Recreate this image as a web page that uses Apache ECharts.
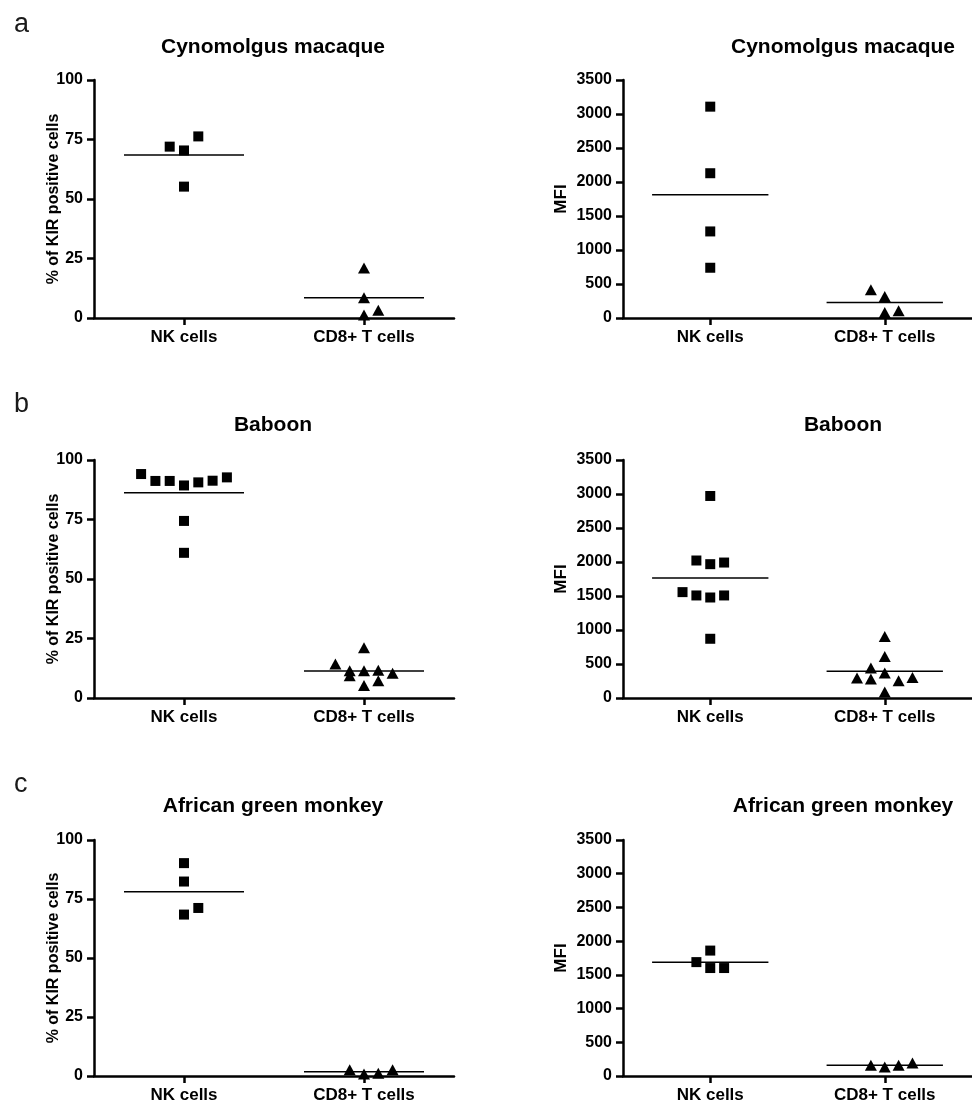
<!DOCTYPE html>
<html>
<head>
<meta charset="utf-8">
<script src="https://cdn.jsdelivr.net/npm/echarts@6/dist/echarts.min.js"></script>
<style>
html,body{margin:0;padding:0;background:#fff;}
#chart{width:972px;height:1104px;}
</style>
</head>
<body>
<div id="chart"></div>
<script>
// ---------- data ----------
var categories = ['NK cells', 'CD8+ T cells'];
var panelLetters = ['a', 'b', 'c'];
var speciesTitles = ['Cynomolgus macaque', 'Baboon', 'African green monkey'];
var pctAxisName = '% of KIR positive cells';
var mfiAxisName = 'MFI';

// % of KIR positive cells
var cynoPctNK = [72.0, 70.4, 76.3, 55.2];
var cynoPctNKSlot = [-1, 0, 1, 0];
var cynoPctCD8 = [21.0, 8.5, 3.3, 1.3];
var cynoPctCD8Slot = [0, 0, 1, 0];

var babPctNK = [94.1, 91.2, 91.2, 89.3, 90.6, 91.3, 92.7, 74.4, 61.0];
var babPctNKSlot = [-3, -2, -1, 0, 1, 2, 3, 0, 0];
var babPctCD8 = [14.3, 11.5, 9.4, 21.1, 11.5, 5.2, 11.7, 7.3, 10.4];
var babPctCD8Slot = [-2, -1, -1, 0, 0, 0, 1, 1, 2];

var agmPctNK = [90.2, 82.4, 68.4, 71.2];
var agmPctNKSlot = [0, 0, 0, 1];
var agmPctCD8 = [2.6, 0.8, 1.2, 2.6];
var agmPctCD8Slot = [-1, 0, 1, 2];

// MFI
var cynoMfiNK = [3108, 2129, 1273, 739];
var cynoMfiNKSlot = [0, 0, 0, 0];
var cynoMfiCD8 = [415, 315, 80, 105];
var cynoMfiCD8Slot = [-1, 0, 0, 1];

var babMfiNK = [2971, 2022, 1968, 1992, 1557, 1508, 1478, 1508, 871];
var babMfiNKSlot = [0, -1, 0, 1, -2, -1, 0, 1, 0];
var babMfiCD8 = [906, 612, 440, 294, 279, 367, 254, 303, 88];
var babMfiCD8Slot = [0, 0, -1, -2, -1, 0, 1, 2, 0];

var agmMfiNK = [1689, 1860, 1601, 1601];
var agmMfiNKSlot = [-1, 0, 0, 1];
var agmMfiCD8 = [161, 132, 161, 191];
var agmMfiCD8Slot = [-1, 0, 1, 2];

var pctTicks = {min: 0, max: 100, interval: 25};
var mfiTicks = {min: 0, max: 3500, interval: 500};

// ---------- layout / style ----------
var FONT = '"Liberation Sans", Arial, Helvetica, sans-serif';
var rowTops = [80, 460, 840];
var gridH = 238;
var gridW = 360;
var leftX = 94, rightX = 623;
var JITTER = 14.3 / 180;   // one symbol step, in category units
var HALF_LINE = 60 / 180;  // half width of mean line, in category units

var panels = [
  {row: 0, col: 0, nk: cynoPctNK, nkS: cynoPctNKSlot, cd: cynoPctCD8, cdS: cynoPctCD8Slot, ax: pctTicks, name: pctAxisName},
  {row: 0, col: 1, nk: cynoMfiNK, nkS: cynoMfiNKSlot, cd: cynoMfiCD8, cdS: cynoMfiCD8Slot, ax: mfiTicks, name: mfiAxisName},
  {row: 1, col: 0, nk: babPctNK, nkS: babPctNKSlot, cd: babPctCD8, cdS: babPctCD8Slot, ax: pctTicks, name: pctAxisName},
  {row: 1, col: 1, nk: babMfiNK, nkS: babMfiNKSlot, cd: babMfiCD8, cdS: babMfiCD8Slot, ax: mfiTicks, name: mfiAxisName},
  {row: 2, col: 0, nk: agmPctNK, nkS: agmPctNKSlot, cd: agmPctCD8, cdS: agmPctCD8Slot, ax: pctTicks, name: pctAxisName},
  {row: 2, col: 1, nk: agmMfiNK, nkS: agmMfiNKSlot, cd: agmMfiCD8, cdS: agmMfiCD8Slot, ax: mfiTicks, name: mfiAxisName}
];

function mean(a){ var s = 0; for (var i = 0; i < a.length; i++) s += a[i]; return s / a.length; }
function pts(vals, slots, c){ return vals.map(function(v, i){ return [c + slots[i] * JITTER, v]; }); }

var grid = [], xAxis = [], yAxis = [], series = [], graphic = [];

panels.forEach(function(p, i){
  var left = p.col === 0 ? leftX : rightX;
  grid.push({left: left, top: rowTops[p.row], width: gridW, height: gridH, containLabel: false});
  // visible category axis
  xAxis.push({
    type: 'category', gridIndex: i, data: categories, boundaryGap: true,
    axisLine: {show: true, onZero: false, lineStyle: {color: '#000', width: 2.5}},
    axisTick: {show: true, alignWithLabel: true, length: 7, lineStyle: {color: '#000', width: 2.5}},
    axisLabel: {color: '#000', fontFamily: FONT, fontWeight: 'bold', fontSize: 17, margin: 11},
    splitLine: {show: false}
  });
  // hidden value axis for placing points
  xAxis.push({type: 'value', gridIndex: i, min: -0.5, max: 1.5, show: false,
    axisLine: {onZero: false}});
  yAxis.push({
    type: 'value', gridIndex: i, min: p.ax.min, max: p.ax.max, interval: p.ax.interval,
    name: p.name, nameLocation: 'middle', nameRotate: 90, nameMoveOverlap: false,
    nameGap: p.col === 0 ? 32 : 53,
    nameTextStyle: {color: '#000', fontFamily: FONT, fontWeight: 'bold', fontSize: p.col === 0 ? 16 : 17},
    axisLine: {show: true, onZero: false, lineStyle: {color: '#000', width: 2.5}},
    axisTick: {show: true, length: 7, lineStyle: {color: '#000', width: 2.5}},
    axisLabel: {color: '#000', fontFamily: FONT, fontWeight: 'bold', fontSize: 16, margin: 11,
      formatter: function(v){ return String(v); }},
    splitLine: {show: false}
  });
  var xi = i * 2 + 1;
  var groups = [[p.nk, p.nkS, 0, 'rect', 10], [p.cd, p.cdS, 1, 'triangle', [12, 11]]];
  groups.forEach(function(g){
    var m = mean(g[0]);
    series.push({
      type: 'line', xAxisIndex: xi, yAxisIndex: i, symbol: 'none', silent: true,
      lineStyle: {color: '#000', width: 1.5}, z: 2,
      data: [[g[2] - HALF_LINE, m], [g[2] + HALF_LINE, m]]
    });
    series.push({
      type: 'scatter', xAxisIndex: xi, yAxisIndex: i, symbol: g[3], symbolSize: g[4],
      itemStyle: {color: '#000', opacity: 1}, z: 3,
      data: pts(g[0], g[1], g[2])
    });
  });
});

// titles and panel letters
var titleY = [47, 425, 806];
var letterBase = [32, 412, 792];
for (var r = 0; r < 3; r++) {
  graphic.push({type: 'text', left: 14, top: letterBase[r] - 21,
    style: {text: panelLetters[r], fill: '#1a1a1a', font: 'normal 27px ' + FONT}});
  [273, 843].forEach(function(cx){
    graphic.push({type: 'text', x: cx, y: titleY[r],
      style: {text: speciesTitles[r], fill: '#000', font: 'bold 21px ' + FONT, align: 'center', verticalAlign: 'middle'}});
  });
}

var chart = echarts.init(document.getElementById('chart'), null, {renderer: 'canvas'});
chart.setOption({
  animation: false,
  backgroundColor: '#fff',
  grid: grid, xAxis: xAxis, yAxis: yAxis, series: series, graphic: graphic
});
</script>
</body>
</html>
